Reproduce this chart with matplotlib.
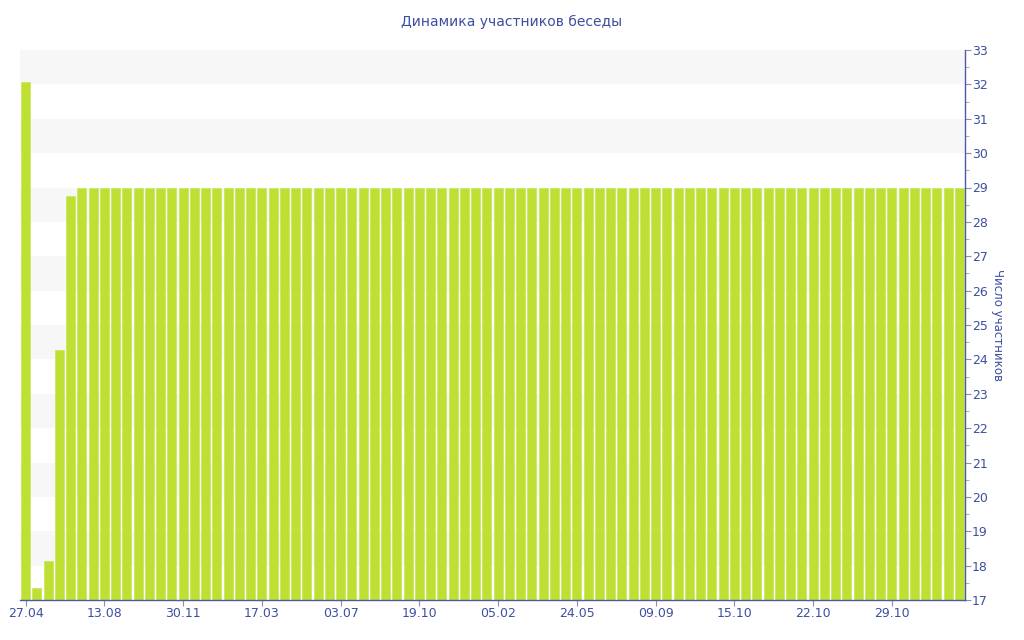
import matplotlib
matplotlib.use("Agg")
import matplotlib.pyplot as plt
from matplotlib.ticker import MultipleLocator, FixedLocator

title = "Динамика участников беседы"
ylabel = "Число участников"

head_values = [32.06, 17.34, 18.13, 24.27, 28.76]
n_bars = 84
values = head_values + [29] * (n_bars - len(head_values))

tick_labels = ["27.04", "13.08", "30.11", "17.03", "03.07", "19.10",
               "05.02", "24.05", "09.09", "15.10", "22.10", "29.10"]
tick_step = 7

bar_color = "#bde032"
text_color = "#3d4f9f"
axis_color = "#4a5aa8"

fig = plt.figure(figsize=(10.24, 6.4), dpi=100)
ax = fig.add_axes([20/1024, 1-600/640, 945/1024, 550/640])

ymin, ymax = 17, 33
for y in range(ymin + 1, ymax, 2):
    ax.axhspan(y, y + 1, color="#f7f7f7", zorder=0, lw=0)

x = list(range(n_bars))
ax.bar(x, [v - ymin for v in values], bottom=ymin, width=0.78,
       color=bar_color, edgecolor="#c8e65a", linewidth=0.5, zorder=2)

ax.set_xlim(-0.5, n_bars - 0.5)
ax.set_ylim(ymin, ymax)

ax.xaxis.set_major_locator(FixedLocator(list(range(0, tick_step*len(tick_labels), tick_step))))
ax.set_xticklabels(tick_labels)

ax.yaxis.tick_right()
ax.yaxis.set_label_position("right")
ax.yaxis.set_major_locator(MultipleLocator(1))
ax.yaxis.set_minor_locator(MultipleLocator(0.5))

for s in ["left", "top"]:
    ax.spines[s].set_visible(False)
for s in ["bottom", "right"]:
    ax.spines[s].set_color(axis_color)
    ax.spines[s].set_linewidth(1.0)

ax.tick_params(axis="x", colors="#8890b0", labelcolor=text_color, labelsize=9,
               length=4, pad=1)
ax.tick_params(axis="y", which="major", colors="#8890b0", labelcolor=text_color,
               labelsize=9, length=4, pad=1)
ax.tick_params(axis="y", which="minor", colors="#a0a0a0", length=3)

ax.set_ylabel(ylabel, rotation=270, color=text_color, fontsize=8.5, labelpad=12)
fig.text(512/1024, 1-22/640, title, ha="center", va="center",
         color=text_color, fontsize=10)

fig.savefig("out.png", dpi=100)
